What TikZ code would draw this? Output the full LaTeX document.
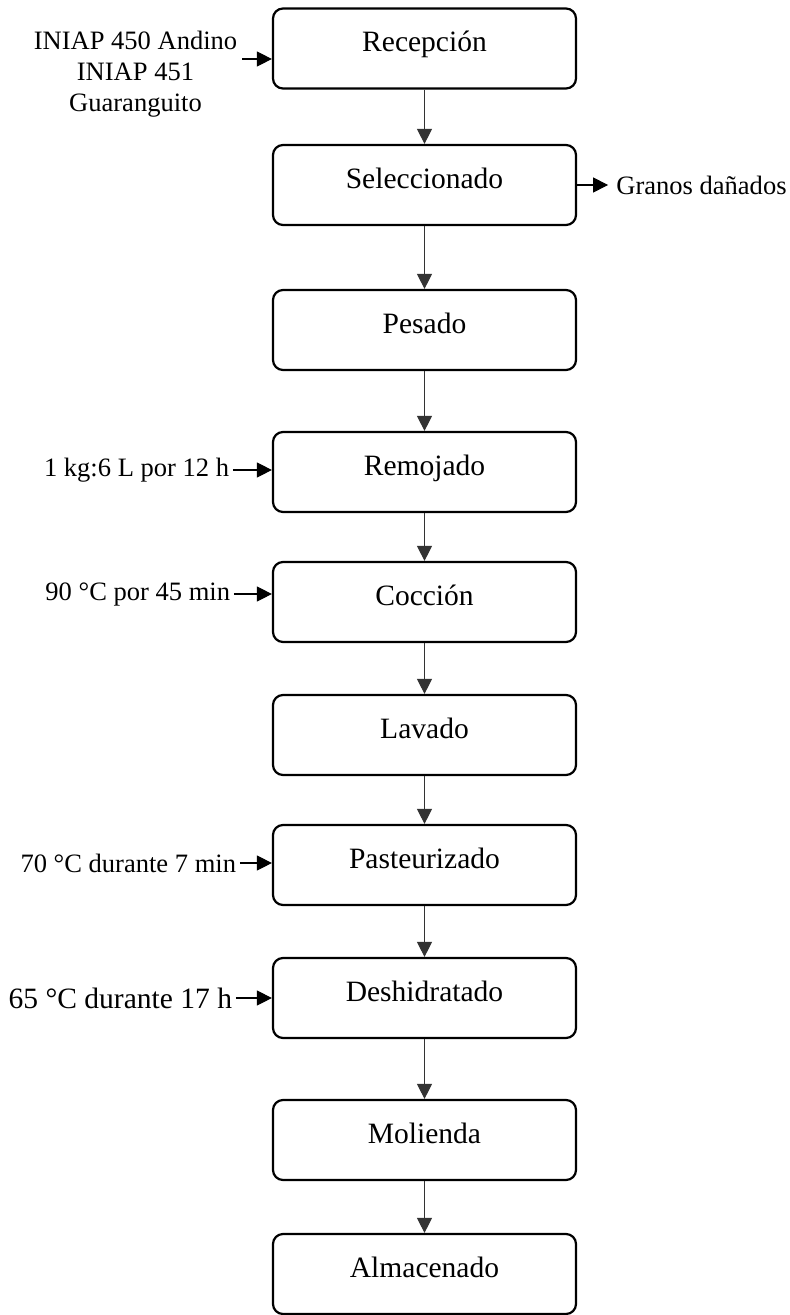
\documentclass[tikz,border=0pt]{standalone}
\usepackage{fontspec}
\setmainfont{Liberation Serif}
\usetikzlibrary{arrows.meta}
\usetikzlibrary{positioning}

\begin{document}
\begin{tikzpicture}[
        paso/.style={draw, rounded corners=0.2cm, line width=1.25pt, minimum width=6.06cm,
                     minimum height=1.6cm, text height=0.7em, text depth=0.35em,
                     font=\fontsize{16.8}{19}\selectfont},
        lbl/.style={inner xsep=2pt, font=\fontsize{15.1}{17.6}\selectfont},
        flecha/.style={-{Triangle[length=8.5pt, width=8.5pt]}, line width=0.6pt},
    ]
        \useasboundingbox (0,0) rectangle (15.8,-26.3);
        % etapas del proceso
        \foreach \nom/\y/\txt in {rec/-0.97/Recepción, sel/-3.70/Seleccionado, pes/-6.60/Pesado,
                                  rem/-9.44/Remojado, coc/-12.04/Cocción, lav/-14.70/Lavado,
                                  pas/-17.30/Pasteurizado, des/-19.96/Deshidratado,
                                  mol/-22.80/Molienda, alm/-25.48/Almacenado}
            \node[paso] at (8.49,\y) (\nom) {\txt};
        \foreach \a/\b in {rec/sel, sel/pes, pes/rem, rem/coc, coc/lav, lav/pas, pas/des, des/mol, mol/alm}
            \draw[flecha, black!80] (\a) -- (\b);
        % entradas y salidas
        \node[lbl, align=center] at (2.71,-1.49) (var) {INIAP 450 Andino\\INIAP 451\\Guaranguito};
        \coordinate (var-fin) at (4.84,-1.18);
        \draw[flecha] (var-fin) -- (var-fin -| rec.west);
        \node[lbl, right=0.62cm of sel, inner xsep=4.5pt] (dan) {Granos dañados};
        \draw[flecha] (sel) -- (dan);
        \node[lbl, left=0.78cm of rem, yshift=0.04cm] (agua) {1 kg:6 L por 12 h};
        \draw[flecha] (agua.east) -- (agua.east -| rem.west);
        \node[lbl, left=0.76cm of coc, yshift=0.16cm] (tcoc) {90 °C por 45 min};
        \draw[flecha] (tcoc.east) -- (tcoc.east -| coc.west);
        \node[lbl, left=0.64cm of pas, yshift=0.04cm] (tpas) {70 °C durante 7 min};
        \draw[flecha] (tpas.east) -- (tpas.east -| pas.west);
        \node[lbl, left=0.72cm of des, font=\fontsize{16.8}{19}\selectfont] (tdes) {65 °C durante 17 h};
        \draw[flecha] (tdes.east) -- (tdes.east -| des.west);
      \end{tikzpicture}
\end{document}
